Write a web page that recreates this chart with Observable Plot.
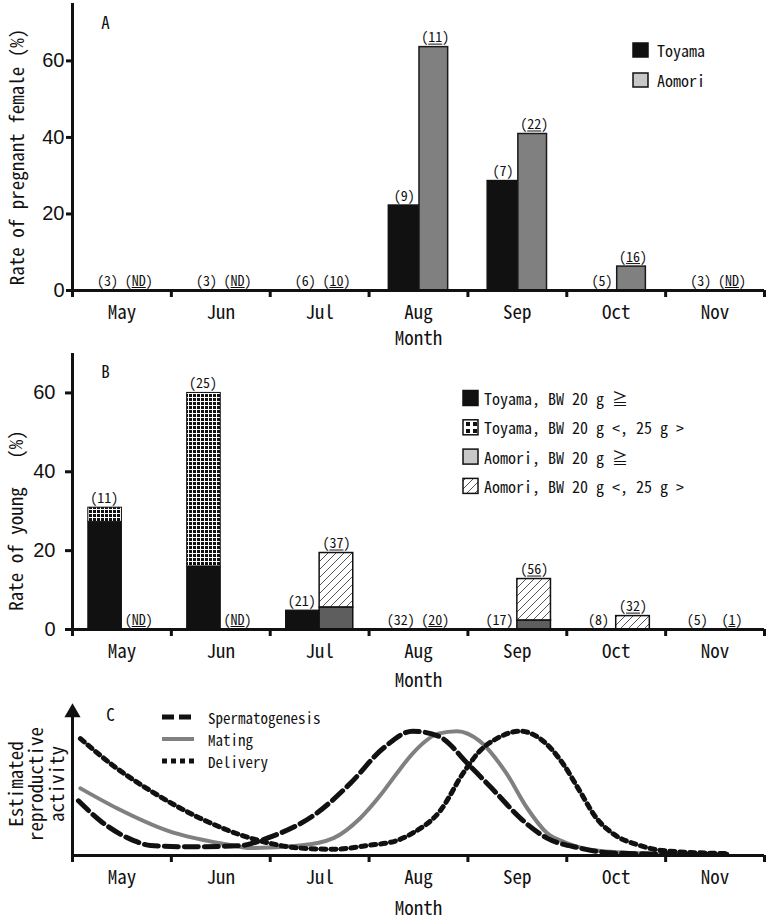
<!DOCTYPE html>
<html><head><meta charset="utf-8">
<script src="https://cdn.jsdelivr.net/npm/d3@7"></script>
<script src="https://cdn.jsdelivr.net/npm/@observablehq/plot@0.6"></script>
<style>
body{margin:0;background:#fff;}
#wrap{position:relative;width:767px;height:921px;overflow:hidden;background:#fff;}
#wrap > svg{position:absolute;left:0;}
</style></head><body><div id="wrap"></div>
<script>
// ---------- data ----------
const months = ["May","Jun","Jul","Aug","Sep","Oct","Nov"];

// Panel A: rate of pregnant female (%)
const toyamaPregnant = [0, 0, 0, 22.2, 28.6, 0, 0];
const aomoriPregnant = [null, null, 0, 63.6, 40.9, 6.25, null];
const toyamaPregnantN = ["3","3","6","9","7","5","3"];
const aomoriPregnantN = ["ND","ND","10","11","22","16","ND"];
const legendA = ["Toyama","Aomori"];

// Panel B: rate of young (%)
const toyamaYoungLarge = [27.3, 16, 4.8, 0, 0, 0, 0];
const toyamaYoungSmall = [3.6, 44, 0, 0, 0, 0, 0];
const aomoriYoungLarge = [null, null, 5.6, 0, 2.3, 0, 0];
const aomoriYoungSmall = [null, null, 13.8, 0, 10.5, 3.4, 0];
const toyamaYoungN = ["11","25","21","32","17","8","5"];
const aomoriYoungN = ["ND","ND","37","20","56","32","1"];
const legendB = ["Toyama, BW 20 g ≧","Toyama, BW 20 g <, 25 g >","Aomori, BW 20 g ≧","Aomori, BW 20 g <, 25 g >"];

// Panel C: estimated reproductive activity (month position, activity)
const spermMonth = [0.06,0.28,0.62,0.79,1.2,1.7,1.97,2.47,2.81,3.14,3.44,3.70,4.02,4.29,4.53,4.80,5.13,5.46,6.0,6.62];
const spermValue = [44,28,12,8,7,8,14,34,58,86,100,96,72,50,30,14,6,2,1.2,1];
const matingMonth = [0.08,0.45,0.96,1.63,1.80,2.30,2.64,2.91,3.11,3.28,3.44,3.70,3.89,4.12,4.39,4.60,4.80,5.0,5.30,5.81,6.34];
const matingValue = [54,38,20,8,6,8,14,30,48,66,82,98,100,92,66,38,18,10,4,1.5,0.8];
const deliveryMonth = [0.08,0.45,0.79,1.29,1.80,2.30,2.64,2.98,3.28,3.44,3.72,3.95,4.12,4.29,4.53,4.73,4.96,5.13,5.30,5.46,5.74,5.97,6.62];
const deliveryValue = [94,70,52,30,14,6,5,8,12,18,36,66,84,94,100,94,74,52,30,18,8,4,1.5];
const legendC = ["Spermatogenesis","Mating","Delivery"];

// ---------- style ----------
const FONT = '"Noto Sans Mono CJK JP","Noto Sans CJK JP","DejaVu Sans Mono",monospace';
const NUMFONT = '"Liberation Sans",Arial,sans-serif';
const wrap = document.getElementById("wrap");
const style = {fontFamily: FONT, fontSize: "14px", color: "#111", background: "white", overflow: "visible"};

function xAxes(monthDy) {
  return [
    Plot.axisX({ticks: d3.range(months.length + 1), tickSize: 7, strokeWidth: 3, tickFormat: () => "", label: null}),
    Plot.axisX({ticks: months.map((m, i) => i + 0.5), tickSize: 0, tickPadding: 15,
      tickFormat: d => months[Math.floor(d)], fontSize: 19, label: null}),
    Plot.ruleY([0], {strokeWidth: 3}),
    Plot.ruleX([0], {strokeWidth: 3}),
    Plot.text(["Month"], {frameAnchor: "bottom", dy: monthDy, fontSize: 19})
  ];
}

// underline the Aomori sample sizes (number only, not the parentheses)
function underline(svg) {
  d3.select(svg).selectAll('g[aria-description="aomori-n"] text').each(function() {
    const n = this.getNumberOfChars();
    if (n < 3) return;
    const a = this.getStartPositionOfChar(1);
    const b = this.getEndPositionOfChar(n - 2);
    const ln = d3.select(this.parentNode).append("line")
      .attr("x1", a.x).attr("x2", b.x).attr("y1", a.y + 2).attr("y2", a.y + 2)
      .attr("stroke", "#111").attr("stroke-width", 1);
    const tr = this.getAttribute("transform");
    if (tr) ln.attr("transform", tr);
  });
}

// ---------- Panel A ----------
const aRows = months.map((m, i) => ({i, t: toyamaPregnant[i], a: aomoriPregnant[i], tn: toyamaPregnantN[i], an: aomoriPregnantN[i]}));
const svgA = Plot.plot({
  width: 767, height: 345, marginLeft: 72, marginRight: 3, marginTop: 3, marginBottom: 55,
  x: {domain: [0, months.length]}, y: {domain: [0, 75]}, style,
  marks: [
    Plot.rectY(aRows.filter(d => d.t > 0), {x1: d => d.i + 0.2, x2: d => d.i + 0.51, y1: 0, y2: d => d.t, fill: "#111", stroke: "#111", strokeWidth: 1.5}),
    Plot.rectY(aRows.filter(d => d.a > 0), {x1: d => d.i + 0.51, x2: d => d.i + 0.8, y1: 0, y2: d => d.a, fill: "#808080", stroke: "#1a1a1a", strokeWidth: 1.5}),
    Plot.text(aRows, {x: d => d.i + 0.355, y: d => d.t, text: d => `(${d.tn})`, lineAnchor: "bottom", dy: -5, fontSize: 14}),
    Plot.text(aRows, {x: d => d.i + 0.67, y: d => d.a ?? 0, text: d => `(${d.an})`, lineAnchor: "bottom", dy: -5, fontSize: 14, ariaDescription: "aomori-n"}),
    Plot.axisY({ticks: [0, 20, 40, 60], tickSize: 6, tickPadding: 2, strokeWidth: 3, fontSize: 20, fontFamily: NUMFONT, label: null}),
    ...xAxes(54),
    Plot.text(["A"], {frameAnchor: "top-left", textAnchor: "middle", lineAnchor: "middle", dx: 33, dy: 20, fontSize: 17}),
    Plot.text(["Rate of pregnant female (%)"], {frameAnchor: "left", textAnchor: "middle", lineAnchor: "middle", rotate: -90, dx: -55, dy: 10, fontSize: 19})
  ]
});
svgA.style.top = "0px";
wrap.appendChild(svgA);
underline(svgA);

// ---------- Panel B ----------
const bRows = months.map((m, i) => ({
  i, tl: toyamaYoungLarge[i], ts: toyamaYoungSmall[i], al: aomoriYoungLarge[i], as: aomoriYoungSmall[i],
  tn: toyamaYoungN[i], an: aomoriYoungN[i]
}));
const svgB = Plot.plot({
  width: 767, height: 345, marginLeft: 72, marginRight: 3, marginTop: 8, marginBottom: 61,
  x: {domain: [0, months.length]}, y: {domain: [0, 70]}, style,
  marks: [
    Plot.rectY(bRows.filter(d => d.tl > 0), {x1: d => d.i + 0.16, x2: d => d.i + 0.5, y1: 0, y2: d => d.tl, fill: "#111", stroke: "#111", strokeWidth: 1}),
    Plot.rectY(bRows.filter(d => d.ts > 0), {x1: d => d.i + 0.16, x2: d => d.i + 0.5, y1: d => d.tl, y2: d => d.tl + d.ts, fill: "url(#gridPat)", stroke: "#111", strokeWidth: 1}),
    Plot.rectY(bRows.filter(d => d.al > 0), {x1: d => d.i + 0.5, x2: d => d.i + 0.84, y1: 0, y2: d => d.al, fill: "#5e5e5e", stroke: "#111", strokeWidth: 1.5}),
    Plot.rectY(bRows.filter(d => d.as > 0), {x1: d => d.i + 0.5, x2: d => d.i + 0.84, y1: d => d.al ?? 0, y2: d => (d.al ?? 0) + d.as, fill: "url(#hatchPat)", stroke: "#111", strokeWidth: 1.5}),
    Plot.text(bRows, {x: d => d.i + 0.32, y: d => d.tl + d.ts, text: d => `(${d.tn})`, lineAnchor: "bottom", dy: -5, fontSize: 14}),
    Plot.text(bRows, {x: d => d.i + 0.67, y: d => (d.al ?? 0) + (d.as ?? 0), text: d => `(${d.an})`, lineAnchor: "bottom", dy: -5, fontSize: 14, ariaDescription: "aomori-n"}),
    Plot.axisY({ticks: [0, 20, 40, 60], tickSize: 7, tickPadding: 10, strokeWidth: 3, fontSize: 20, fontFamily: NUMFONT, label: null}),
    ...xAxes(57),
    Plot.text(["B"], {frameAnchor: "top-left", textAnchor: "middle", lineAnchor: "middle", dx: 33, dy: 19, fontSize: 17}),
    Plot.text(["Rate of young\u00a0\u00a0\u00a0(%)"], {frameAnchor: "left", textAnchor: "middle", lineAnchor: "middle", rotate: -90, dx: -56, dy: 29, fontSize: 19})
  ]
});
svgB.style.top = "345px";
wrap.appendChild(svgB);
underline(svgB);

// ---------- Panel C ----------
const sperm = spermMonth.map((m, i) => ({m, v: spermValue[i]}));
const mating = matingMonth.map((m, i) => ({m, v: matingValue[i]}));
const delivery = deliveryMonth.map((m, i) => ({m, v: deliveryValue[i]}));
const yMaxC = 115;
const svgC = Plot.plot({
  width: 767, height: 231, marginLeft: 72, marginRight: 3, marginTop: 22, marginBottom: 66,
  x: {domain: [0, months.length]}, y: {domain: [0, yMaxC], axis: null}, style,
  marks: [
    Plot.line(mating, {x: "m", y: "v", curve: "monotone-x", stroke: "#808080", strokeWidth: 4}),
    Plot.line(delivery, {x: "m", y: "v", curve: "monotone-x", stroke: "#111", strokeWidth: 5, strokeDasharray: "5,5"}),
    Plot.line(sperm, {x: "m", y: "v", curve: "monotone-x", stroke: "#111", strokeWidth: 5, strokeDasharray: "14,6"}),
    ...xAxes(59),
    Plot.dot([yMaxC], {x: 0, y: d => d, symbol: "triangle", r: 6, fill: "#111", stroke: "none"}),
    Plot.text(["C"], {frameAnchor: "top-left", textAnchor: "middle", lineAnchor: "middle", dx: 38, dy: 3, fontSize: 17}),
    Plot.text(["Estimated\nreproductive\nactivity"], {frameAnchor: "left", textAnchor: "middle", lineAnchor: "middle", rotate: -90, dx: -36, dy: 0, fontSize: 19, lineHeight: 1.08})
  ]
});
svgC.style.top = "690px";
wrap.appendChild(svgC);

// ---------- overlay: pattern defs + legends ----------
const ov = d3.select(wrap).append("svg")
  .attr("width", 767).attr("height", 921)
  .style("top", "0px").style("pointer-events", "none")
  .style("font-family", FONT).style("fill", "#111");
const defs = ov.append("defs");
const gp = defs.append("pattern").attr("id", "gridPat").attr("patternUnits", "userSpaceOnUse").attr("width", 4).attr("height", 4);
gp.append("rect").attr("width", 4).attr("height", 4).attr("fill", "#111");
gp.append("path").attr("d", "M0 0.5H4M0.5 0V4").attr("stroke", "#fff").attr("stroke-width", 1);
const gl = defs.append("pattern").attr("id", "gridLeg").attr("patternUnits", "userSpaceOnUse").attr("width", 7).attr("height", 7).attr("x", 464).attr("y", 420);
gl.append("rect").attr("width", 7).attr("height", 7).attr("fill", "#fff");
gl.append("rect").attr("x", 2).attr("y", 2).attr("width", 4).attr("height", 4).attr("fill", "#111");
const hp = defs.append("pattern").attr("id", "hatchPat").attr("patternUnits", "userSpaceOnUse").attr("width", 8).attr("height", 8);
hp.append("rect").attr("width", 8).attr("height", 8).attr("fill", "#fff");
hp.append("path").attr("d", "M0 8L8 0M-1 1L1 -1M7 9L9 7").attr("stroke", "#555").attr("stroke-width", 1);

// legend A
const lgA = ov.append("g");
const fillsA = ["#111", "#c8c8c8"];
legendA.forEach((name, k) => {
  const cy = 50 + k * 30;
  lgA.append("rect").attr("x", 633).attr("y", cy - 7).attr("width", 15).attr("height", 14)
    .attr("fill", fillsA[k]).attr("stroke", "#111").attr("stroke-width", 1.5);
  lgA.append("text").attr("x", 657).attr("y", cy).attr("dominant-baseline", "central")
    .attr("font-size", 16).text(name);
});

// legend B
const lgB = ov.append("g");
const fillsB = ["#111", "url(#gridLeg)", "#c8c8c8", "url(#hatchPat)"];
legendB.forEach((name, k) => {
  const cy = 398 + k * 29.3;
  lgB.append("rect").attr("x", 463).attr("y", cy - 7.5).attr("width", 15).attr("height", 15)
    .attr("fill", fillsB[k]).attr("stroke", "#111").attr("stroke-width", 1.5);
  lgB.append("text").attr("x", 484).attr("y", cy).attr("dominant-baseline", "central")
    .attr("font-size", 16).text(name);
});

// legend C
const lgC = ov.append("g");
const strokesC = [{s: "#111", w: 5, d: "12,5"}, {s: "#808080", w: 4, d: null}, {s: "#111", w: 5, d: "5,4"}];
legendC.forEach((name, k) => {
  const cy = 717 + k * 22;
  const ln = lgC.append("line").attr("x1", 162).attr("x2", 194).attr("y1", cy).attr("y2", cy)
    .attr("stroke", strokesC[k].s).attr("stroke-width", strokesC[k].w);
  if (strokesC[k].d) ln.attr("stroke-dasharray", strokesC[k].d);
  lgC.append("text").attr("x", 208).attr("y", cy).attr("dominant-baseline", "central")
    .attr("font-size", 15).text(name);
});
</script>
</body></html>
